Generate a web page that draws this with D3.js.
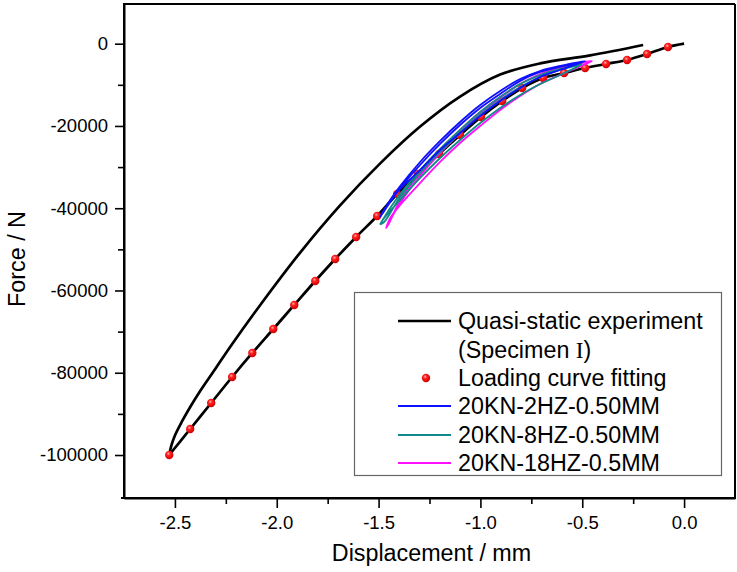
<!DOCTYPE html>
<html><head><meta charset="utf-8">
<script src="https://cdn.jsdelivr.net/npm/d3@7"></script>
<style>body{margin:0;background:#fff} svg{display:block}</style>
</head><body><svg id="c" width="737" height="572"></svg>
<script>
// ---- data ----
const xTicks = [-2.5, -2.0, -1.5, -1.0, -0.5, 0.0];
const xMinor = [-2.25, -1.75, -1.25, -0.75, -0.25];
const yTicks = [0, -20000, -40000, -60000, -80000, -100000];
const yMinor = [-10000, -30000, -50000, -70000, -90000];

// Quasi-static experiment (loading branch, then unloading branch)
const quasiLoading = [[0,0],[-0.079,-800],[-0.182,-2500],[-0.280,-3960],[-0.383,-4930],[-0.486,-5910],
  [-0.589,-7120],[-0.692,-8340],[-0.795,-10770],[-0.893,-13930],[-0.997,-17820],[-1.100,-22200],
  [-1.203,-26810],[-1.306,-31680],[-1.409,-36540],[-1.507,-41890],[-1.610,-46990],[-1.713,-52340],
  [-1.811,-57690],[-1.914,-63520],[-2.017,-69360],[-2.120,-75190],[-2.219,-81030],[-2.322,-87350],
  [-2.425,-93670],[-2.528,-99990]];
const quasiUnloading = [[-2.528,-99990],[-2.518,-97799],[-2.499,-95125],[-2.464,-91722],[-2.425,-88318],
  [-2.376,-84429],[-2.302,-79080],[-2.229,-73732],[-2.081,-63522],[-1.885,-50784],[-1.689,-39309],
  [-1.492,-29099],[-1.296,-20153],[-1.100,-12860],[-0.903,-7512],[-0.707,-4789],[-0.461,-2844],[-0.201,-316]];

// Loading curve fitting points
const fitPoints = [[-0.079,-800],[-0.182,-2500],[-0.280,-3960],[-0.383,-4930],[-0.486,-5910],
  [-0.589,-7120],[-0.692,-8340],[-0.795,-10770],[-0.893,-13930],[-0.997,-17820],[-1.100,-22200],
  [-1.203,-26810],[-1.306,-31680],[-1.409,-36540],[-1.507,-41890],[-1.610,-46990],[-1.713,-52340],
  [-1.811,-57690],[-1.914,-63520],[-2.017,-69360],[-2.120,-75190],[-2.219,-81030],[-2.322,-87350],
  [-2.425,-93670],[-2.528,-99990]];

// 20KN-2HZ-0.50MM hysteresis
const hz2 = [[-1.492,-42129],[-1.443,-37997],[-1.394,-34593],[-1.296,-28759],[-1.198,-23654],[-1.100,-19035],
  [-1.001,-14902],[-0.903,-11499],[-0.805,-8581],[-0.707,-6637],[-0.609,-5421],[-0.486,-4206],
  [-0.609,-6394],[-0.707,-8095],[-0.805,-10769],[-0.903,-13930],[-1.001,-17576],[-1.100,-21709],
  [-1.198,-25842],[-1.296,-30704],[-1.394,-35322],[-1.468,-39941],[-1.492,-42129],
  [-1.443,-38483],[-1.394,-35079],[-1.296,-29488],[-1.198,-24383],[-1.100,-19764],[-1.001,-15631],
  [-0.903,-12228],[-0.805,-9068],[-0.707,-6880],[-0.609,-5664],[-0.496,-4449]];
// 20KN-8HZ-0.50MM hysteresis
const hz8 = [[-1.492,-43831],[-1.443,-39941],[-1.394,-36538],[-1.296,-30704],[-1.198,-25599],[-1.100,-20980],
  [-1.001,-16604],[-0.903,-12957],[-0.805,-9797],[-0.707,-7609],[-0.609,-6150],[-0.501,-4935],
  [-0.609,-7609],[-0.707,-9797],[-0.805,-12471],[-0.903,-15631],[-1.001,-19278],[-1.100,-23411],
  [-1.198,-27786],[-1.296,-32648],[-1.394,-37997],[-1.468,-42129],[-1.492,-43831],
  [-1.473,-43345],[-1.394,-37267],[-1.296,-31433],[-1.198,-26328],[-1.100,-21709],[-1.001,-17333],
  [-0.903,-13687],[-0.805,-10526],[-0.707,-8095],[-0.609,-6394],[-0.511,-5178]];
// 20KN-18HZ-0.5MM hysteresis
const hz18 = [[-1.463,-44803],[-1.394,-38726],[-1.296,-32162],[-1.198,-26571],[-1.100,-21709],[-1.001,-17090],
  [-0.903,-13200],[-0.805,-9797],[-0.707,-7366],[-0.609,-5664],[-0.452,-4206],
  [-0.599,-7366],[-0.707,-9797],[-0.805,-12714],[-0.903,-16118],[-1.001,-20007],[-1.100,-24140],
  [-1.198,-28759],[-1.296,-33864],[-1.394,-39212],[-1.443,-42372],[-1.463,-44803],
  [-1.443,-43100],[-1.394,-37997],[-1.296,-31433],[-1.198,-25842],[-1.100,-20980],[-1.001,-16604],
  [-0.903,-12957],[-0.805,-9797],[-0.707,-7609],[-0.609,-5900],[-0.470,-4400]];

const legendLabels = ["Quasi-static experiment", "(Specimen ", "Loading curve fitting",
  "20KN-2HZ-0.50MM", "20KN-8HZ-0.50MM", "20KN-18HZ-0.5MM"];
const colors = {black:"#000000", red:"#ff0000", blue:"#1010ff", teal:"#108a88", magenta:"#ff10ff"};

// ---- chart ----
const svg = d3.select("#c");
const font = "'Liberation Sans', Arial, sans-serif";
const L = 124, R = 735, T = 4, B = 498;
const x = d3.scaleLinear().domain([-2.75, 0.25]).range([L, R]);
const y = d3.scaleLinear().domain([-110450, 9650]).range([B, T]);

const defs = svg.append("defs");
const g = defs.append("radialGradient").attr("id","ball").attr("cx","40%").attr("cy","35%").attr("r","65%");
g.append("stop").attr("offset","0%").attr("stop-color","#ffb0b0");
g.append("stop").attr("offset","35%").attr("stop-color","#ff2020");
g.append("stop").attr("offset","100%").attr("stop-color","#d00000");

// frame top/right
svg.append("line").attr("x1",L).attr("x2",R).attr("y1",T).attr("y2",T).attr("stroke","#000").attr("stroke-width",2);
svg.append("line").attr("x1",R).attr("x2",R).attr("y1",T).attr("y2",B).attr("stroke","#000").attr("stroke-width",2);

// axes
const xAxis = svg.append("g").attr("transform",`translate(0,${B})`)
  .call(d3.axisBottom(x).tickValues(xTicks).tickFormat(d=>d.toFixed(1)).tickSize(10).tickSizeOuter(0).tickPadding(8));
const xMin = svg.append("g").attr("transform",`translate(0,${B})`)
  .call(d3.axisBottom(x).tickValues(xMinor).tickFormat("").tickSize(6).tickSizeOuter(0));
const yAxis = svg.append("g").attr("transform",`translate(${L},0)`)
  .call(d3.axisLeft(y).tickValues(yTicks).tickFormat(d=>String(d)).tickSize(9).tickSizeOuter(0).tickPadding(7));
const yMin = svg.append("g").attr("transform",`translate(${L},0)`)
  .call(d3.axisLeft(y).tickValues(yMinor).tickFormat("").tickSize(6).tickSizeOuter(0));
[xAxis,xMin,yAxis,yMin].forEach(a=>{
  a.select(".domain").attr("stroke","#000").attr("stroke-width",2);
  a.selectAll(".tick line").attr("stroke","#000").attr("stroke-width",1.6);
  a.selectAll(".tick text").attr("fill","#000").style("font-family",font).style("font-size","18.5px");
});
xAxis.select(".domain").attr("d",`M${L-3},0H${R+1}`);
yAxis.select(".domain").attr("d",`M0,${T-1}V${B+1}`);

// axis titles
svg.append("text").attr("x",(L+R)/2+2).attr("y",561).attr("text-anchor","middle")
  .style("font-family",font).style("font-size","23.3px").text("Displacement / mm");
svg.append("text").attr("transform",`translate(25,${(T+B)/2+8}) rotate(-90)`).attr("text-anchor","middle")
  .style("font-family",font).style("font-size","23.3px").text("Force / N");

// curves
const line = d3.line().x(d=>x(d[0])).y(d=>y(d[1])).curve(d3.curveCatmullRom.alpha(0.5));
const plot = svg.append("g");
plot.append("path").datum(quasiLoading).attr("d",line).attr("fill","none").attr("stroke",colors.black).attr("stroke-width",2.7);
plot.append("path").datum(quasiUnloading).attr("d",line).attr("fill","none").attr("stroke",colors.black).attr("stroke-width",2.7);
plot.selectAll("circle.fit").data(fitPoints).join("circle").attr("class","fit")
  .attr("cx",d=>x(d[0])).attr("cy",d=>y(d[1])).attr("r",4.2).attr("fill","url(#ball)");
[[hz18,colors.magenta],[hz8,colors.teal],[hz2,colors.blue]].forEach(([data,c])=>{
  plot.append("path").datum(data).attr("d",line).attr("fill","none").attr("stroke",c).attr("stroke-width",1.8);
});

// legend
const lg = svg.append("g");
lg.append("rect").attr("x",354.5).attr("y",292.5).attr("width",367).attr("height",183)
  .attr("fill","#fff").attr("stroke","#666").attr("stroke-width",1.2);
const rowY = [321, 350, 378, 406, 435, 463];
const tx = 458, lx1 = 398, lx2 = 451;
const ts = (sel)=>sel.style("font-family",font).style("font-size","23.3px").attr("dominant-baseline","central").attr("fill","#000");
lg.append("line").attr("x1",lx1).attr("x2",lx2).attr("y1",rowY[0]).attr("y2",rowY[0]).attr("stroke",colors.black).attr("stroke-width",2.7);
ts(lg.append("text").attr("x",tx).attr("y",rowY[0])).text(legendLabels[0]);
const t1 = ts(lg.append("text").attr("x",tx).attr("y",rowY[1])).text(legendLabels[1]);
t1.append("tspan").style("font-family","'Liberation Serif', serif").text("I");
t1.append("tspan").text(")");
lg.append("circle").attr("cx",426).attr("cy",rowY[2]).attr("r",4.2).attr("fill","url(#ball)");
ts(lg.append("text").attr("x",tx).attr("y",rowY[2])).text(legendLabels[2]);
[[colors.blue,3],[colors.teal,4],[colors.magenta,5]].forEach(([c,i])=>{
  lg.append("line").attr("x1",lx1).attr("x2",lx2).attr("y1",rowY[i]).attr("y2",rowY[i]).attr("stroke",c).attr("stroke-width",2);
  ts(lg.append("text").attr("x",tx).attr("y",rowY[i])).text(legendLabels[i]);
});
</script></body></html>
